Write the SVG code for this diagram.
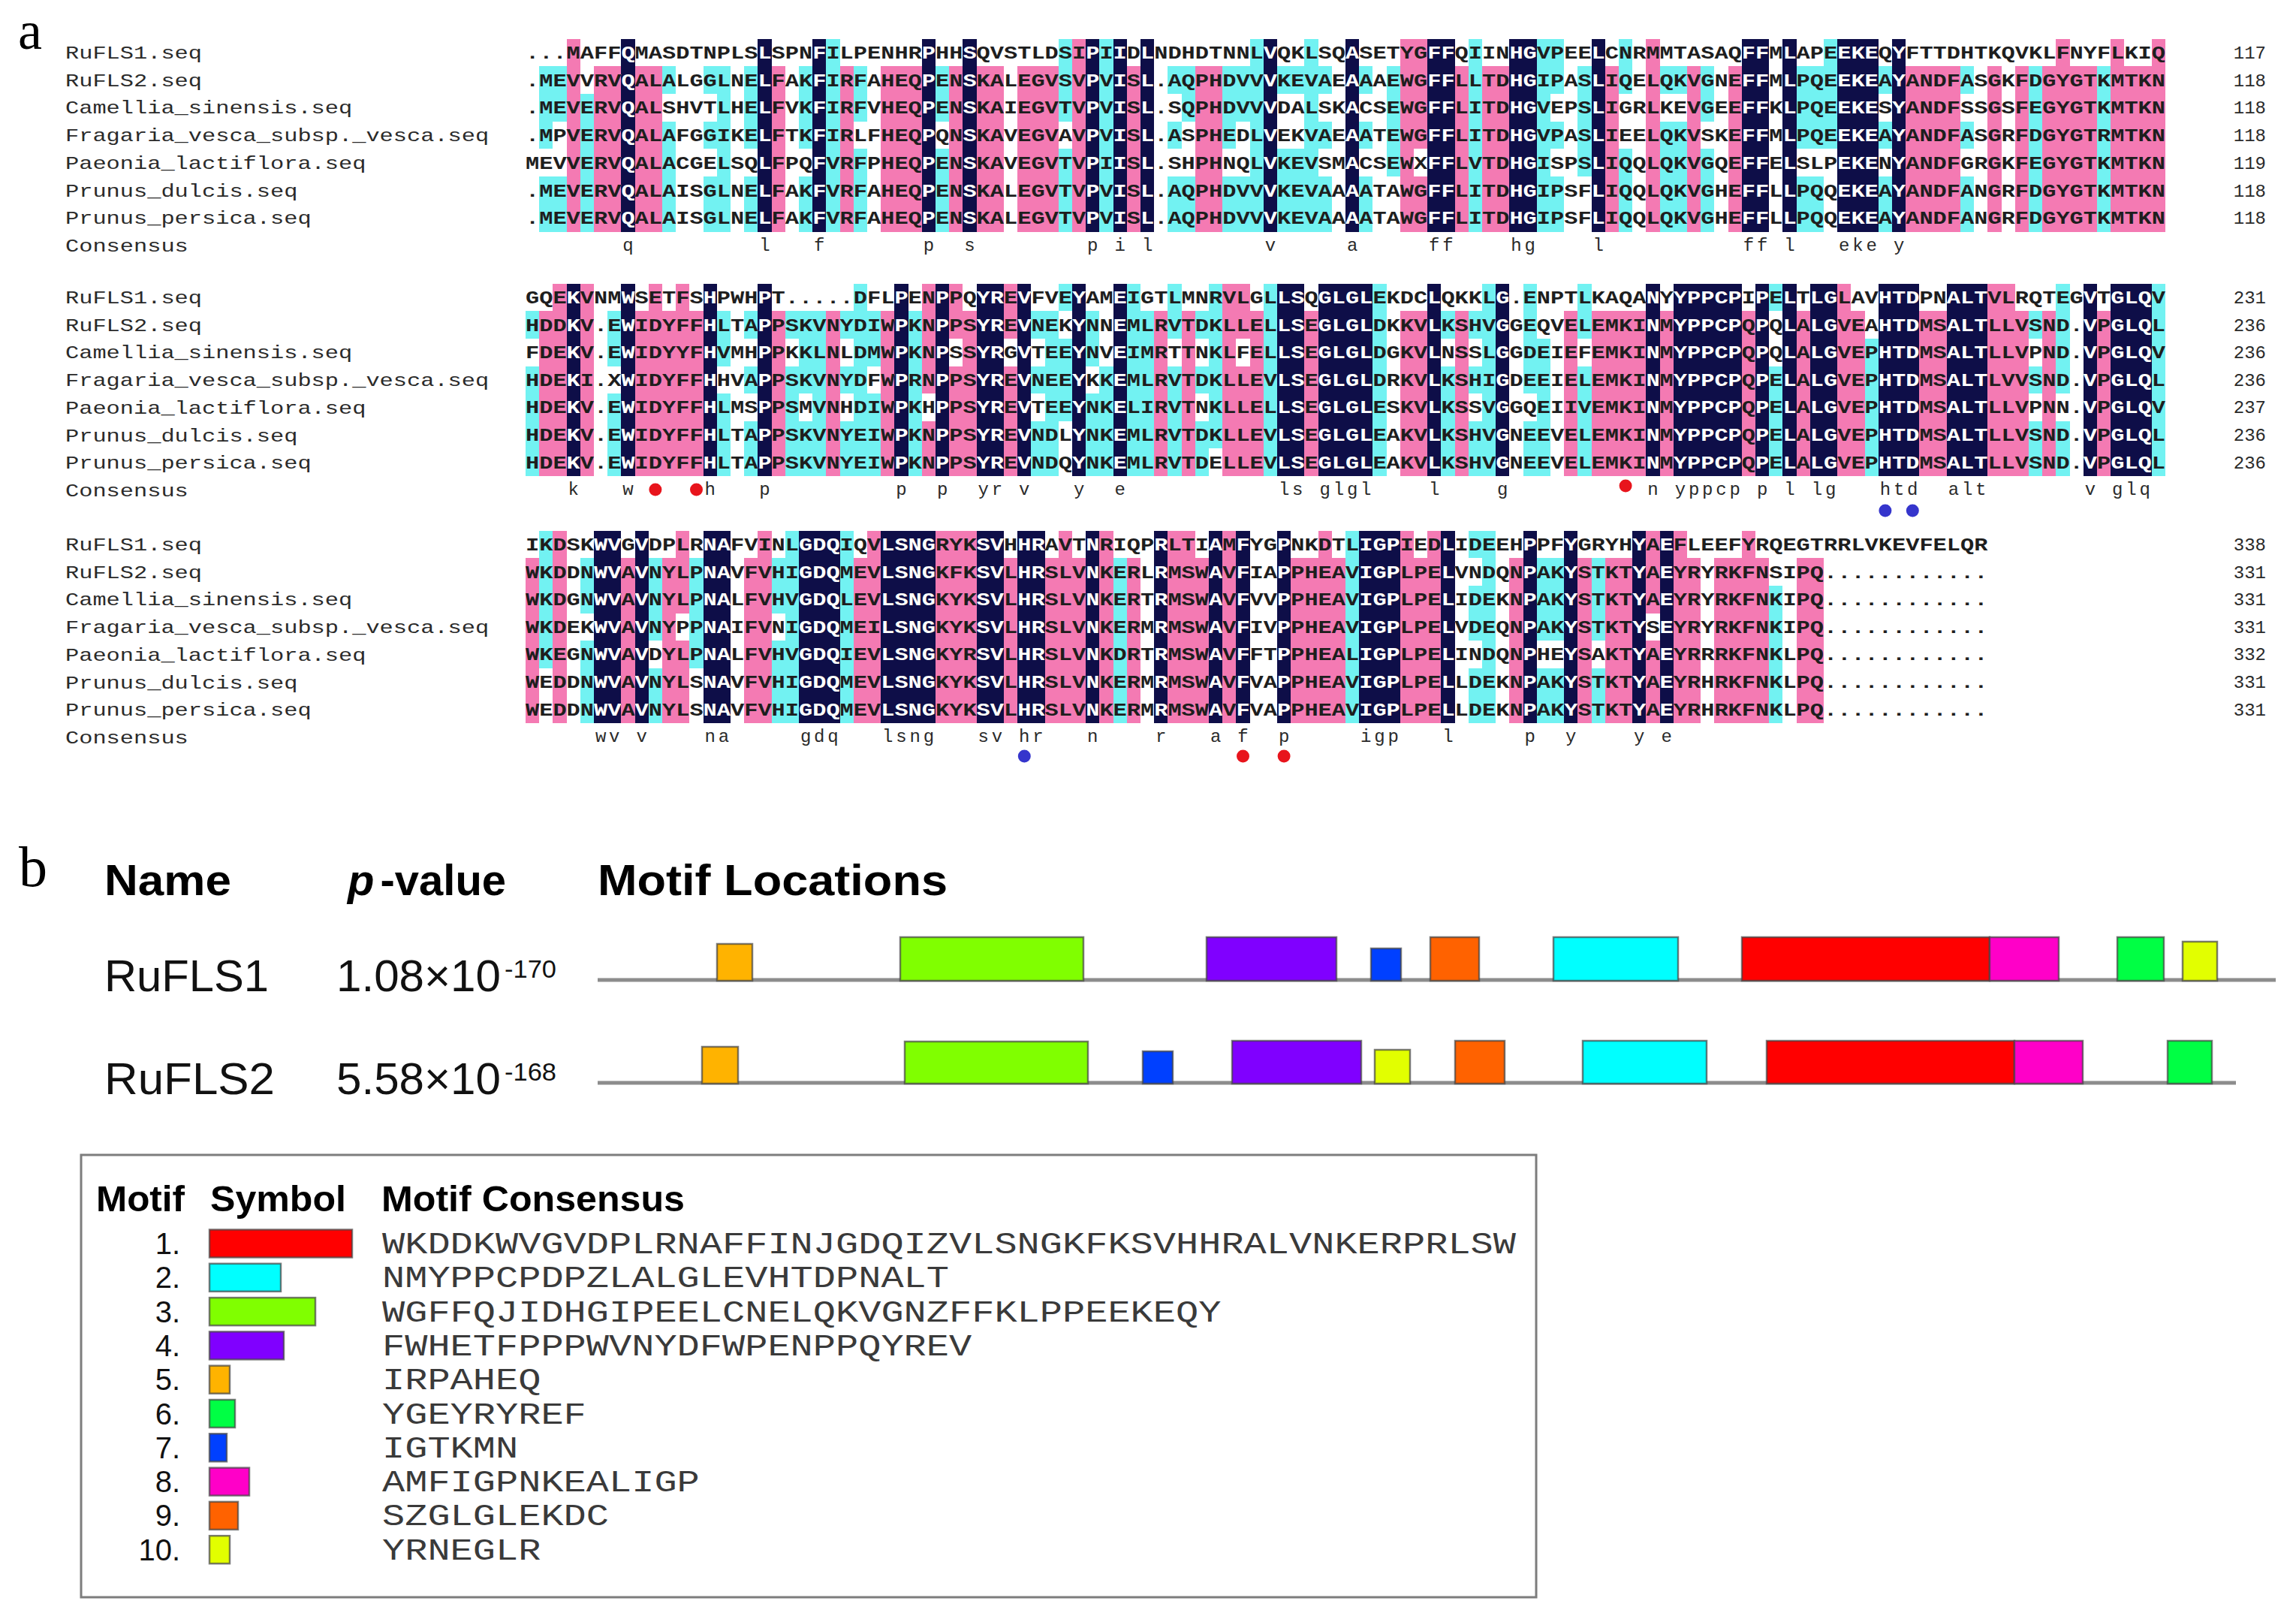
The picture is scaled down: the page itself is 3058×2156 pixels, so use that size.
<svg xmlns="http://www.w3.org/2000/svg" width="3058" height="2156" viewBox="0 0 3058 2156">
<style>
.sq{font-family:"Liberation Mono","DejaVu Sans Mono",monospace;font-size:24px;font-weight:700}
.nm{font-family:"Liberation Mono","DejaVu Sans Mono",monospace;font-size:24px;fill:#2a2a2a}
.cs{font-family:"Liberation Mono","DejaVu Sans Mono",monospace;font-size:24px;fill:#2a2a2a;text-anchor:middle}
.num{font-family:"Liberation Mono","DejaVu Sans Mono",monospace;font-size:24px;fill:#2a2a2a;text-anchor:end}
.pk{fill:#f47ab3}
.cy{fill:#72f2f2}
.nv{fill:#0e0e48}
.rd{fill:#e8141c}
.bl{fill:#3535cc}
.lab{font-family:"Liberation Serif","Times New Roman",serif;fill:#000}
.hb{font-family:"Liberation Sans",Arial,sans-serif;font-weight:700;font-size:58px;fill:#000}
.rg{font-family:"Liberation Sans",Arial,sans-serif;font-size:60px;fill:#111}
.sup{font-family:"Liberation Sans",Arial,sans-serif;font-size:34px;fill:#111}
.trk{stroke:#8c8c8c;stroke-width:5}
.mb{stroke:#444;stroke-opacity:.7;stroke-width:2.5}
.m1{fill:#ff0000}.m2{fill:#00ffff}.m3{fill:#80ff00}.m4{fill:#8000ff}.m5{fill:#ffb300}
.m6{fill:#00ff44}.m7{fill:#0040ff}.m8{fill:#ff00c8}.m9{fill:#ff6200}.m10{fill:#e2ff00}
.lh{font-family:"Liberation Sans",Arial,sans-serif;font-weight:700;font-size:49px;fill:#000}
.ln{font-family:"Liberation Sans",Arial,sans-serif;font-size:40px;fill:#111;text-anchor:end}
.lc{font-family:"Liberation Mono","DejaVu Sans Mono",monospace;font-size:40px;fill:#3a3a3a}
</style>
<defs>
<path id="nv1" transform="translate(700 51.65) scale(18.2 36.7)" d="M7 0h1v7h-1z M17 0h1v7h-1z M21 0h1v7h-1z M29 0h1v7h-1z M32 0h1v7h-1z M41 0h1v7h-1z M43 0h1v7h-1z M45 0h1v7h-1z M54 0h1v7h-1z M60 0h1v7h-1z M66 0h2v7h-2z M72 0h2v7h-2z M78 0h1v7h-1z M89 0h2v7h-2z M92 0h1v7h-1z M96 0h3v7h-3z M100 0h1v7h-1z"/>
<path id="nv2" transform="translate(700 377.7) scale(18.2 36.6)" d="M3 0h1v7h-1z M7 0h1v7h-1z M13 0h1v7h-1z M17 0h1v7h-1z M27 0h1v7h-1z M30 0h1v7h-1z M33 0h2v7h-2z M36 0h1v7h-1z M40 0h1v7h-1z M43 0h1v7h-1z M55 0h2v7h-2z M58 0h4v7h-4z M66 0h1v7h-1z M71 0h1v7h-1z M82 0h1v7h-1z M84 0h5v7h-5z M90 0h1v7h-1z M92 0h1v7h-1z M94 0h2v7h-2z M99 0h3v7h-3z M104 0h3v7h-3z M114 0h1v7h-1z M116 0h3v7h-3z"/>
<path id="nv3" transform="translate(700 706.7) scale(18.2 36.6)" d="M5 0h2v7h-2z M8 0h1v7h-1z M13 0h2v7h-2z M20 0h3v7h-3z M26 0h4v7h-4z M33 0h2v7h-2z M36 0h2v7h-2z M41 0h1v7h-1z M46 0h1v7h-1z M50 0h1v7h-1z M52 0h1v7h-1z M55 0h1v7h-1z M61 0h3v7h-3z M67 0h1v7h-1z M73 0h1v7h-1z M76 0h1v7h-1z M81 0h1v7h-1z M83 0h1v7h-1z"/>
<clipPath id="c1"><use href="#nv1"/></clipPath>
<clipPath id="c2"><use href="#nv2"/></clipPath>
<clipPath id="c3"><use href="#nv3"/></clipPath>
<g id="s1" class="sq">
<text x="700" y="78" textLength="2184" lengthAdjust="spacingAndGlyphs">...MAFFQMASDTNPLSLSPNFILPENHRPHHSQVSTLDSIPIIDLNDHDTNNLVQKLSQASETYGFFQIINHGVPEELCNRMMTASAQFFMLAPEEKEQYFTTDHTKQVKLFNYFLKIQ</text>
<text x="700" y="114.7" textLength="2184" lengthAdjust="spacingAndGlyphs">.MEVVRVQALALGGLNELFAKFIRFAHEQPENSKALEGVSVPVISL.AQPHDVVVKEVAEAAAEWGFFLLTDHGIPASLIQELQKVGNEFFMLPQEEKEAYANDFASGKFDGYGTKMTKN</text>
<text x="700" y="151.4" textLength="2184" lengthAdjust="spacingAndGlyphs">.MEVERVQALSHVTLHELFVKFIRFVHEQPENSKAIEGVTVPVISL.SQPHDVVVDALSKACSEWGFFLITDHGVEPSLIGRLKEVGEEFFKLPQEEKESYANDFSSGSFEGYGTKMTKN</text>
<text x="700" y="188.1" textLength="2184" lengthAdjust="spacingAndGlyphs">.MPVERVQALAFGGIKELFTKFIRLFHEQPQNSKAVEGVAVPVISL.ASPHEDLVEKVAEAATEWGFFLITDHGVPASLIEELQKVSKEFFMLPQEEKEAYANDFASGRFDGYGTRMTKN</text>
<text x="700" y="224.8" textLength="2184" lengthAdjust="spacingAndGlyphs">MEVVERVQALACGELSQLFPQFVRFPHEQPENSKAVEGVTVPIISL.SHPHNQLVKEVSMACSEWXFFLVTDHGISPSLIQQLQKVGQEFFELSLPEKENYANDFGRGKFEGYGTKMTKN</text>
<text x="700" y="261.5" textLength="2184" lengthAdjust="spacingAndGlyphs">.MEVERVQALAISGLNELFAKFVRFAHEQPENSKALEGVTVPVISL.AQPHDVVVKEVAAAATAWGFFLITDHGIPSFLIQQLQKVGHEFFLLPQQEKEAYANDFANGRFDGYGTKMTKN</text>
<text x="700" y="298.2" textLength="2184" lengthAdjust="spacingAndGlyphs">.MEVERVQALAISGLNELFAKFVRFAHEQPENSKALEGVTVPVISL.AQPHDVVVKEVAAAATAWGFFLITDHGIPSFLIQQLQKVGHEFFLLPQQEKEAYANDFANGRFDGYGTKMTKN</text>
</g>
<g id="s2" class="sq">
<text x="700" y="404" textLength="2184" lengthAdjust="spacingAndGlyphs">GQEKVNMWSETFSHPWHPT.....DFLPENPPQYREVFVEYAMEIGTLMNRVLGLLSQGLGLEKDCLQKKLG.ENPTLKAQANYYPPCPIPELTLGLAVHTDPNALTVLRQTEGVTGLQV</text>
<text x="700" y="440.6" textLength="2184" lengthAdjust="spacingAndGlyphs">HDDKV.EWIDYFFHLTAPPSKVNYDIWPKNPPSYREVNEKYNNEMLRVTDKLLELLSEGLGLDKKVLKSHVGGEQVELEMKINMYPPCPQPQLALGVEAHTDMSALTLLVSND.VPGLQL</text>
<text x="700" y="477.2" textLength="2184" lengthAdjust="spacingAndGlyphs">FDEKV.EWIDYYFHVMHPPKKLNLDMWPKNPSSYRGVTEEYNVEIMRTTNKLFELLSEGLGLDGKVLNSSLGGDEIEFEMKINMYPPCPQPQLALGVEPHTDMSALTLLVPND.VPGLQV</text>
<text x="700" y="513.8" textLength="2184" lengthAdjust="spacingAndGlyphs">HDEKI.XWIDYFFHHVAPPSKVNYDFWPRNPPSYREVNEEYKKEMLRVTDKLLEVLSEGLGLDRKVLKSHIGDEEIELEMKINMYPPCPQPELALGVEPHTDMSALTLVVSND.VPGLQL</text>
<text x="700" y="550.4" textLength="2184" lengthAdjust="spacingAndGlyphs">HDEKV.EWIDYFFHLMSPPSMVNHDIWPKHPPSYREVTEEYNKELIRVTNKLLELLSEGLGLESKVLKSSVGGQEIIVEMKINMYPPCPQPELALGVEPHTDMSALTLLVPNN.VPGLQV</text>
<text x="700" y="587" textLength="2184" lengthAdjust="spacingAndGlyphs">HDEKV.EWIDYFFHLTAPPSKVNYEIWPKNPPSYREVNDLYNKEMLRVTDKLLEVLSEGLGLEAKVLKSHVGNEEVELEMKINMYPPCPQPELALGVEPHTDMSALTLLVSND.VPGLQL</text>
<text x="700" y="623.6" textLength="2184" lengthAdjust="spacingAndGlyphs">HDEKV.EWIDYFFHLTAPPSKVNYEIWPKNPPSYREVNDQYNKEMLRVTDELLEVLSEGLGLEAKVLKSHVGNEEVELEMKINMYPPCPQPELALGVEPHTDMSALTLLVSND.VPGLQL</text>
</g>
<g id="s3" class="sq">
<text x="700" y="733" textLength="1947.4" lengthAdjust="spacingAndGlyphs">IKDSKWVGVDPLRNAFVINLGDQIQVLSNGRYKSVHHRAVTNRIQPRLTIAMFYGPNKDTLIGPIEDLIDEEHPPFYGRYHYAEFLEEFYRQEGTRRLVKEVFELQR</text>
<text x="700" y="769.6" textLength="1947.4" lengthAdjust="spacingAndGlyphs">WKDDNWVAVNYLPNAVFVHIGDQMEVLSNGKFKSVLHRSLVNKERLRMSWAVFIAPPHEAVIGPLPELVNDQNPAKYSTKTYAEYRYRKFNSIPQ............</text>
<text x="700" y="806.2" textLength="1947.4" lengthAdjust="spacingAndGlyphs">WKDGNWVAVNYLPNALFVHVGDQLEVLSNGKYKSVLHRSLVNKERTRMSWAVFVVPPHEAVIGPLPELIDEKNPAKYSTKTYAEYRYRKFNKIPQ............</text>
<text x="700" y="842.8" textLength="1947.4" lengthAdjust="spacingAndGlyphs">WKDEKWVAVNYPPNAIFVNIGDQMEILSNGKYKSVLHRSLVNKERMRMSWAVFIVPPHEAVIGPLPELVDEQNPAKYSTKTYSEYRYRKFNKIPQ............</text>
<text x="700" y="879.4" textLength="1947.4" lengthAdjust="spacingAndGlyphs">WKEGNWVAVDYLPNALFVHVGDQIEVLSNGKYRSVLHRSLVNKDRTRMSWAVFFTPPHEALIGPLPELINDQNPHEYSAKTYAEYRRRKFNKLPQ............</text>
<text x="700" y="916" textLength="1947.4" lengthAdjust="spacingAndGlyphs">WEDDNWVAVNYLSNAVFVHIGDQMEVLSNGKYKSVLHRSLVNKERMRMSWAVFVAPPHEAVIGPLPELLDEKNPAKYSTKTYAEYRHRKFNKLPQ............</text>
<text x="700" y="952.6" textLength="1947.4" lengthAdjust="spacingAndGlyphs">WEDDNWVAVNYLSNAVFVHIGDQMEVLSNGKYKSVLHRSLVNKERMRMSWAVFVAPPHEAVIGPLPELLDEKNPAKYSTKTYAEYRHRKFNKLPQ............</text>
</g>
</defs>
<rect x="0" y="0" width="3058" height="2156" fill="#fff"/>
<text class="lab" x="24" y="65" font-size="72">a</text>
<g id="alignment-shading" shape-rendering="crispEdges">
<g transform="translate(700 51.65) scale(18.2 36.7)">
<path class="pk" d="M3 1h1v6h-1z M5 1h2v6h-2z M8 1h2v6h-2z M18 1h1v6h-1z M23 1h1v6h-1z M26 1h3v6h-3z M31 1h1v6h-1z M33 1h2v6h-2z M36 1h3v6h-3z M40 1h1v6h-1z M44 1h1v6h-1z M49 1h2v6h-2z M64 1h1v6h-1z M68 1h1v6h-1z M70 1h2v6h-2z M79 1h1v6h-1z M82 1h1v6h-1z M85 1h1v6h-1z M88 1h1v6h-1z M101 1h4v6h-4z M107 1h1v6h-1z M109 1h1v6h-1z M111 1h4v6h-4z M116 1h4v6h-4z M65 1h1v3h-1z M65 5h1v2h-1z M3 0h1v1h-1z M40 0h1v1h-1z M64 0h2v1h-2z M82 0h1v1h-1z M112 0h1v1h-1z M116 0h1v1h-1z M119 0h1v1h-1z"/>
<path class="cy" d="M22 0h1v1h-1z M39 0h1v1h-1z M42 0h1v1h-1z M53 0h1v1h-1z M57 0h1v1h-1z M69 0h1v1h-1z M74 0h2v1h-2z M80 0h1v1h-1z M95 0h1v1h-1z
M1 1h2v1h-2z M10 1h1v1h-1z M13 1h2v1h-2z M16 1h1v1h-1z M20 1h1v1h-1z M22 1h1v1h-1z M24 1h1v1h-1z M30 1h1v1h-1z M39 1h1v1h-1z M42 1h1v1h-1z M47 1h2v1h-2z M51 1h3v1h-3z M55 1h4v1h-4z M61 1h1v1h-1z M63 1h1v1h-1z M69 1h1v1h-1z M74 1h2v1h-2z M77 1h1v1h-1z M80 1h1v1h-1z M83 1h2v1h-2z M86 1h1v1h-1z M93 1h3v1h-3z M99 1h1v1h-1z M105 1h1v1h-1z M110 1h1v1h-1z M115 1h1v1h-1z
M1 2h2v1h-2z M4 2h1v1h-1z M14 2h1v1h-1z M16 2h1v1h-1z M20 2h1v1h-1z M22 2h1v1h-1z M24 2h1v1h-1z M30 2h1v1h-1z M39 2h1v1h-1z M42 2h1v1h-1z M48 2h1v1h-1z M51 2h3v1h-3z M57 2h1v1h-1z M63 2h1v1h-1z M69 2h1v1h-1z M74 2h1v1h-1z M77 2h1v1h-1z M86 2h1v1h-1z M93 2h3v1h-3z M110 2h1v1h-1z M115 2h1v1h-1z
M1 3h1v1h-1z M4 3h1v1h-1z M10 3h1v1h-1z M13 3h2v1h-2z M16 3h1v1h-1z M20 3h1v1h-1z M22 3h1v1h-1z M42 3h1v1h-1z M47 3h1v1h-1z M51 3h1v1h-1z M53 3h1v1h-1z M57 3h2v1h-2z M61 3h1v1h-1z M63 3h1v1h-1z M69 3h1v1h-1z M74 3h2v1h-2z M77 3h1v1h-1z M83 3h2v1h-2z M93 3h3v1h-3z M99 3h1v1h-1z M105 3h1v1h-1z M110 3h1v1h-1z M115 3h1v1h-1z
M4 4h1v1h-1z M10 4h1v1h-1z M14 4h1v1h-1z M22 4h1v1h-1z M24 4h1v1h-1z M30 4h1v1h-1z M39 4h1v1h-1z M42 4h1v1h-1z M53 4h1v1h-1z M55 4h3v1h-3z M63 4h1v1h-1z M69 4h1v1h-1z M74 4h1v1h-1z M77 4h1v1h-1z M80 4h1v1h-1z M83 4h2v1h-2z M86 4h1v1h-1z M110 4h1v1h-1z M115 4h1v1h-1z
M1 5h2v2h-2z M4 5h1v2h-1z M10 5h1v2h-1z M13 5h2v2h-2z M16 5h1v2h-1z M20 5h1v2h-1z M22 5h1v2h-1z M24 5h1v2h-1z M30 5h1v2h-1z M39 5h1v2h-1z M42 5h1v2h-1z M47 5h2v2h-2z M51 5h3v2h-3z M55 5h4v2h-4z M61 5h1v2h-1z M69 5h1v2h-1z M74 5h2v2h-2z M80 5h1v2h-1z M83 5h2v2h-2z M86 5h1v2h-1z M93 5h2v2h-2z M99 5h1v2h-1z M105 5h1v2h-1z M110 5h1v2h-1z M115 5h1v2h-1z"/>
</g>
<use href="#nv1" class="nv"/>
<g transform="translate(700 377.7) scale(18.2 36.6)">
<path class="pk" d="M1 1h2v6h-2z M4 1h1v6h-1z M8 1h5v6h-5z M18 1h1v6h-1z M22 1h1v6h-1z M26 1h1v6h-1z M32 1h1v6h-1z M46 1h1v6h-1z M48 1h1v6h-1z M51 1h1v6h-1z M53 1h1v6h-1z M57 1h1v6h-1z M64 1h2v6h-2z M68 1h1v6h-1z M76 1h1v6h-1z M78 1h4v6h-4z M83 1h1v6h-1z M89 1h1v6h-1z M93 1h1v6h-1z M96 1h2v6h-2z M102 1h2v6h-2z M107 1h3v6h-3z M111 1h1v6h-1z M115 1h1v6h-1z M29 1h1v3h-1z M29 5h1v2h-1z M31 1h1v1h-1z M31 3h1v4h-1z M35 1h1v1h-1z M35 3h1v4h-1z M52 1h1v1h-1z M52 3h1v4h-1z M2 0h1v1h-1z M4 0h1v1h-1z M9 0h1v1h-1z M11 0h1v1h-1z M29 0h1v1h-1z M31 0h1v1h-1z M35 0h1v1h-1z M51 0h2v1h-2z M96 0h1v1h-1z M107 0h2v1h-2z"/>
<path class="cy" d="M24 0h1v1h-1z M39 0h1v1h-1z M44 0h1v1h-1z M47 0h1v1h-1z M50 0h1v1h-1z M54 0h1v1h-1z M62 0h1v1h-1z M70 0h1v1h-1z M73 0h1v1h-1z M77 0h1v1h-1z M91 0h1v1h-1z M112 0h1v1h-1z M119 0h1v1h-1z
M0 1h1v1h-1z M6 1h1v1h-1z M14 1h1v1h-1z M16 1h1v1h-1z M19 1h3v1h-3z M23 1h3v1h-3z M28 1h1v1h-1z M37 1h2v1h-2z M41 1h1v1h-1z M44 1h2v1h-2z M47 1h1v1h-1z M49 1h2v1h-2z M54 1h1v1h-1z M62 1h1v1h-1z M67 1h1v1h-1z M69 1h2v1h-2z M73 1h1v1h-1z M77 1h1v1h-1z M110 1h1v1h-1z M112 1h1v1h-1z M119 1h1v1h-1z
M6 2h1v1h-1z M14 2h1v1h-1z M20 2h2v1h-2z M24 2h2v1h-2z M28 2h1v1h-1z M38 2h2v1h-2z M41 2h1v1h-1z M44 2h2v1h-2z M50 2h1v1h-1z M54 2h1v1h-1z M62 2h1v1h-1z M70 2h1v1h-1z M73 2h2v1h-2z M98 2h1v1h-1z M112 2h1v1h-1z M119 2h1v1h-1z
M0 3h1v1h-1z M16 3h1v1h-1z M19 3h3v1h-3z M23 3h2v1h-2z M28 3h1v1h-1z M37 3h3v1h-3z M42 3h1v1h-1z M44 3h2v1h-2z M47 3h1v1h-1z M49 3h2v1h-2z M54 3h1v1h-1z M62 3h1v1h-1z M67 3h1v1h-1z M69 3h2v1h-2z M73 3h2v1h-2z M77 3h1v1h-1z M91 3h1v1h-1z M98 3h1v1h-1z M110 3h1v1h-1z M112 3h1v1h-1z M119 3h1v1h-1z
M0 4h1v1h-1z M6 4h1v1h-1z M14 4h1v1h-1z M19 4h1v1h-1z M21 4h1v1h-1z M24 4h2v1h-2z M28 4h1v1h-1z M38 4h2v1h-2z M41 4h2v1h-2z M44 4h2v1h-2z M47 4h1v1h-1z M50 4h1v1h-1z M54 4h1v1h-1z M62 4h1v1h-1z M67 4h1v1h-1z M70 4h1v1h-1z M74 4h1v1h-1z M77 4h1v1h-1z M91 4h1v1h-1z M98 4h1v1h-1z M119 4h1v1h-1z
M0 5h1v2h-1z M6 5h1v2h-1z M14 5h1v2h-1z M16 5h1v2h-1z M19 5h3v2h-3z M23 5h3v2h-3z M28 5h1v2h-1z M37 5h2v2h-2z M41 5h2v2h-2z M44 5h2v2h-2z M47 5h1v2h-1z M49 5h1v2h-1z M54 5h1v2h-1z M62 5h1v2h-1z M67 5h1v2h-1z M69 5h2v2h-2z M73 5h2v2h-2z M77 5h1v2h-1z M91 5h1v2h-1z M98 5h1v2h-1z M110 5h1v2h-1z M112 5h1v2h-1z M119 5h1v2h-1z M50 5h1v1h-1z"/>
</g>
<use href="#nv2" class="nv"/>
<g transform="translate(700 706.7) scale(18.2 36.6)">
<path class="pk" d="M0 1h1v6h-1z M2 1h1v6h-1z M7 1h1v6h-1z M10 1h1v6h-1z M16 1h2v6h-2z M24 1h2v6h-2z M30 1h3v6h-3z M35 1h1v6h-1z M38 1h3v6h-3z M42 1h1v6h-1z M44 1h1v6h-1z M47 1h3v6h-3z M51 1h1v6h-1z M56 1h4v6h-4z M64 1h3v6h-3z M72 1h1v6h-1z M77 1h1v6h-1z M79 1h2v6h-2z M84 1h2v6h-2z M87 1h4v6h-4z M93 1h2v6h-2z M11 1h1v2h-1z M11 4h1v3h-1z M82 1h1v2h-1z M82 4h1v3h-1z M2 0h1v1h-1z M11 0h1v1h-1z M17 0h1v1h-1z M25 0h1v1h-1z M30 0h3v1h-3z M39 0h1v1h-1z M42 0h1v1h-1z M47 0h2v1h-2z M51 0h1v1h-1z M58 0h1v1h-1z M64 0h1v1h-1z M66 0h1v1h-1z M82 0h1v1h-1z M84 0h1v1h-1z M89 0h1v1h-1z"/>
<path class="cy" d="M1 0h1v1h-1z M19 0h1v1h-1z M23 0h1v1h-1z M60 0h1v1h-1z M69 0h2v1h-2z
M1 1h1v1h-1z M4 1h1v1h-1z M9 1h1v1h-1z M12 1h1v1h-1z M18 1h2v1h-2z M23 1h1v1h-1z M43 1h1v1h-1z M60 1h1v1h-1z M70 1h1v1h-1z M74 1h2v1h-2z M78 1h1v1h-1z
M1 2h1v1h-1z M4 2h1v1h-1z M9 2h1v1h-1z M12 2h1v1h-1z M18 2h2v1h-2z M23 2h1v1h-1z M43 2h1v1h-1z M60 2h1v1h-1z M69 2h2v1h-2z M74 2h2v1h-2z M78 2h1v1h-1z M91 2h1v1h-1z
M1 3h1v1h-1z M9 3h1v1h-1z M12 3h1v1h-1z M19 3h1v1h-1z M23 3h1v1h-1z M43 3h1v1h-1z M60 3h1v1h-1z M69 3h2v1h-2z M74 3h2v1h-2z M78 3h1v1h-1z M91 3h1v1h-1z
M1 4h1v1h-1z M4 4h1v1h-1z M12 4h1v1h-1z M18 4h2v1h-2z M23 4h1v1h-1z M43 4h1v1h-1z M60 4h1v1h-1z M70 4h1v1h-1z M91 4h1v1h-1z
M4 5h1v2h-1z M9 5h1v2h-1z M18 5h2v2h-2z M23 5h1v2h-1z M43 5h1v2h-1z M60 5h1v2h-1z M69 5h2v2h-2z M74 5h2v2h-2z M78 5h1v2h-1z M91 5h1v2h-1z"/>
</g>
<use href="#nv3" class="nv"/>
</g>
<g id="alignment-text">
<use href="#s1" fill="#1e1e1e"/>
<use href="#s1" fill="#ffffff" clip-path="url(#c1)"/>
<use href="#s2" fill="#1e1e1e"/>
<use href="#s2" fill="#ffffff" clip-path="url(#c2)"/>
<use href="#s3" fill="#1e1e1e"/>
<use href="#s3" fill="#ffffff" clip-path="url(#c3)"/>
</g>
<g id="names" class="nm">
<text x="87" y="78" textLength="182" lengthAdjust="spacingAndGlyphs">RuFLS1.seq</text>
<text x="87" y="114.7" textLength="182" lengthAdjust="spacingAndGlyphs">RuFLS2.seq</text>
<text x="87" y="151.4" textLength="382.2" lengthAdjust="spacingAndGlyphs">Camellia_sinensis.seq</text>
<text x="87" y="188.1" textLength="564.2" lengthAdjust="spacingAndGlyphs">Fragaria_vesca_subsp._vesca.seq</text>
<text x="87" y="224.8" textLength="400.4" lengthAdjust="spacingAndGlyphs">Paeonia_lactiflora.seq</text>
<text x="87" y="261.5" textLength="309.4" lengthAdjust="spacingAndGlyphs">Prunus_dulcis.seq</text>
<text x="87" y="298.2" textLength="327.6" lengthAdjust="spacingAndGlyphs">Prunus_persica.seq</text>
<text x="87" y="335" textLength="163.8" lengthAdjust="spacingAndGlyphs">Consensus</text>
</g>
<use href="#names" y="326"/>
<use href="#names" y="655"/>
<g id="numbers" class="num">
<text x="3018" y="78">117</text><text x="3018" y="114.7">118</text><text x="3018" y="151.4">118</text><text x="3018" y="188.1">118</text><text x="3018" y="224.8">119</text><text x="3018" y="261.5">118</text><text x="3018" y="298.2">118</text>
<text x="3018" y="404">231</text><text x="3018" y="440.6">236</text><text x="3018" y="477.2">236</text><text x="3018" y="513.8">236</text><text x="3018" y="550.4">237</text><text x="3018" y="587">236</text><text x="3018" y="623.6">236</text>
<text x="3018" y="733">338</text><text x="3018" y="769.6">331</text><text x="3018" y="806.2">331</text><text x="3018" y="842.8">331</text><text x="3018" y="879.4">332</text><text x="3018" y="916">331</text><text x="3018" y="952.6">331</text>
</g>
<g id="consensus" class="cs">
<text y="334" x="836.5 1018.5 1091.3 1236.9 1291.5 1455.3 1491.7 1528.1 1691.9 1801.1 1910.3 1928.5 2019.5 2037.7 2128.7 2328.9 2347.1 2383.5 2456.3 2474.5 2492.7 2529.1">qlfpspilvaffhglfflekey</text>
<text y="659" x="763.7 836.5 945.7 1018.5 1200.5 1255.1 1309.7 1327.9 1364.3 1437.1 1491.7 1710.1 1728.3 1764.7 1782.9 1801.1 1819.3 1910.3 2001.3 2201.5 2237.9 2256.1 2274.3 2292.5 2310.7 2347.1 2383.5 2419.9 2438.1 2510.9 2529.1 2547.3 2601.9 2620.1 2638.3 2783.9 2820.3 2838.5 2856.7">kwhpppyrvyelsglgllgnyppcppllghtdaltvglq</text>
<text y="988" x="800.1 818.3 854.7 945.7 963.9 1073.1 1091.3 1109.5 1182.3 1200.5 1218.7 1236.9 1309.7 1327.9 1364.3 1382.5 1455.3 1546.3 1619.1 1655.5 1710.1 1819.3 1837.5 1855.7 1928.5 2037.7 2092.3 2183.3 2219.7">wvvnagdqlsngsvhrnrafpigplpyye</text>
</g>
<g id="markers">
<circle class="rd" cx="872.9" cy="652" r="8.5"/>
<circle class="rd" cx="927.5" cy="652" r="8.5"/>
<circle class="rd" cx="2165.1" cy="647" r="8.5"/>
<circle class="bl" cx="2510.9" cy="680" r="8.5"/>
<circle class="bl" cx="2547.3" cy="680" r="8.5"/>
<circle class="bl" cx="1364.3" cy="1007" r="8.5"/>
<circle class="rd" cx="1655.5" cy="1007" r="8.5"/>
<circle class="rd" cx="1710.1" cy="1007" r="8.5"/>
</g>
<g id="panel-b">
<text class="lab" x="25" y="1180" font-size="76">b</text>
<text class="hb" x="139" y="1192" textLength="169" lengthAdjust="spacingAndGlyphs">Name</text>
<text class="hb" x="463" y="1192"><tspan font-style="italic">p</tspan><tspan dx="8">-value</tspan></text>
<text class="hb" x="796" y="1192" textLength="466" lengthAdjust="spacingAndGlyphs">Motif Locations</text>
<text class="rg" x="139" y="1320" textLength="219" lengthAdjust="spacingAndGlyphs">RuFLS1</text>
<text class="rg" x="448" y="1320" textLength="219" lengthAdjust="spacingAndGlyphs">1.08×10</text>
<text class="sup" x="672" y="1302" textLength="69" lengthAdjust="spacingAndGlyphs">-170</text>
<text class="rg" x="139" y="1457" textLength="227" lengthAdjust="spacingAndGlyphs">RuFLS2</text>
<text class="rg" x="448" y="1457" textLength="219" lengthAdjust="spacingAndGlyphs">5.58×10</text>
<text class="sup" x="672" y="1439" textLength="69" lengthAdjust="spacingAndGlyphs">-168</text>
<line class="trk" x1="796" y1="1305" x2="3031" y2="1305"/>
<line class="trk" x1="796" y1="1442" x2="2978" y2="1442"/>
<g id="track-RuFLS1" class="mb">
<rect class="m5" x="955" y="1257" width="47" height="49"/>
<rect class="m3" x="1199" y="1248" width="244" height="58"/>
<rect class="m4" x="1607" y="1248" width="173" height="58"/>
<rect class="m7" x="1826" y="1263" width="40" height="43"/>
<rect class="m9" x="1905" y="1248" width="65" height="58"/>
<rect class="m2" x="2069" y="1248" width="166" height="58"/>
<rect class="m1" x="2320" y="1248" width="330" height="58"/>
<rect class="m8" x="2650" y="1248" width="92" height="58"/>
<rect class="m6" x="2820" y="1248" width="62" height="58"/>
<rect class="m10" x="2907" y="1254" width="46" height="52"/>
</g>
<g id="track-RuFLS2" class="mb">
<rect class="m5" x="935" y="1394" width="48" height="49"/>
<rect class="m3" x="1205" y="1387" width="244" height="56"/>
<rect class="m7" x="1522" y="1400" width="40" height="43"/>
<rect class="m4" x="1641" y="1386" width="172" height="57"/>
<rect class="m10" x="1831" y="1398" width="47" height="45"/>
<rect class="m9" x="1938" y="1386" width="66" height="57"/>
<rect class="m2" x="2108" y="1386" width="165" height="57"/>
<rect class="m1" x="2353" y="1386" width="330" height="57"/>
<rect class="m8" x="2683" y="1386" width="91" height="57"/>
<rect class="m6" x="2887" y="1386" width="59" height="57"/>
</g>
</g>
<g id="legend">
<rect x="108" y="1538" width="1938" height="589" fill="none" stroke="#7d7d7d" stroke-width="3"/>
<text class="lh" x="128" y="1613" textLength="118" lengthAdjust="spacingAndGlyphs">Motif</text>
<text class="lh" x="280" y="1613" textLength="181" lengthAdjust="spacingAndGlyphs">Symbol</text>
<text class="lh" x="508" y="1613" textLength="404" lengthAdjust="spacingAndGlyphs">Motif Consensus</text>
<g class="ln">
<text x="240" y="1670">1.</text><text x="240" y="1715.3">2.</text><text x="240" y="1760.6">3.</text><text x="240" y="1805.9">4.</text><text x="240" y="1851.2">5.</text><text x="240" y="1896.5">6.</text><text x="240" y="1941.8">7.</text><text x="240" y="1987.1">8.</text><text x="240" y="2032.4">9.</text><text x="240" y="2077.7">10.</text>
</g>
<g class="mb">
<rect class="m1" x="279" y="1637.5" width="190" height="37"/>
<rect class="m2" x="279" y="1682.8" width="95" height="37"/>
<rect class="m3" x="279" y="1728.1" width="141" height="37"/>
<rect class="m4" x="279" y="1773.4" width="99" height="37"/>
<rect class="m5" x="279" y="1818.7" width="27" height="37"/>
<rect class="m6" x="279" y="1864" width="34" height="37"/>
<rect class="m7" x="279" y="1909.3" width="23" height="37"/>
<rect class="m8" x="279" y="1954.6" width="53" height="37"/>
<rect class="m9" x="279" y="1999.9" width="38" height="37"/>
<rect class="m10" x="279" y="2045.2" width="27" height="37"/>
</g>
<g class="lc">
<text x="509" y="1669" textLength="1510" lengthAdjust="spacingAndGlyphs">WKDDKWVGVDPLRNAFFINJGDQIZVLSNGKFKSVHHRALVNKERPRLSW</text>
<text x="509" y="1714.3" textLength="755" lengthAdjust="spacingAndGlyphs">NMYPPCPDPZLALGLEVHTDPNALT</text>
<text x="509" y="1759.6" textLength="1117.4" lengthAdjust="spacingAndGlyphs">WGFFQJIDHGIPEELCNELQKVGNZFFKLPPEEKEQY</text>
<text x="509" y="1804.9" textLength="785.2" lengthAdjust="spacingAndGlyphs">FWHETFPPPWVNYDFWPENPPQYREV</text>
<text x="509" y="1850.2" textLength="211.4" lengthAdjust="spacingAndGlyphs">IRPAHEQ</text>
<text x="509" y="1895.5" textLength="271.8" lengthAdjust="spacingAndGlyphs">YGEYRYREF</text>
<text x="509" y="1940.8" textLength="181.2" lengthAdjust="spacingAndGlyphs">IGTKMN</text>
<text x="509" y="1986.1" textLength="422.8" lengthAdjust="spacingAndGlyphs">AMFIGPNKEALIGP</text>
<text x="509" y="2031.4" textLength="302" lengthAdjust="spacingAndGlyphs">SZGLGLEKDC</text>
<text x="509" y="2076.7" textLength="211.4" lengthAdjust="spacingAndGlyphs">YRNEGLR</text>
</g>
</g>
</svg>
